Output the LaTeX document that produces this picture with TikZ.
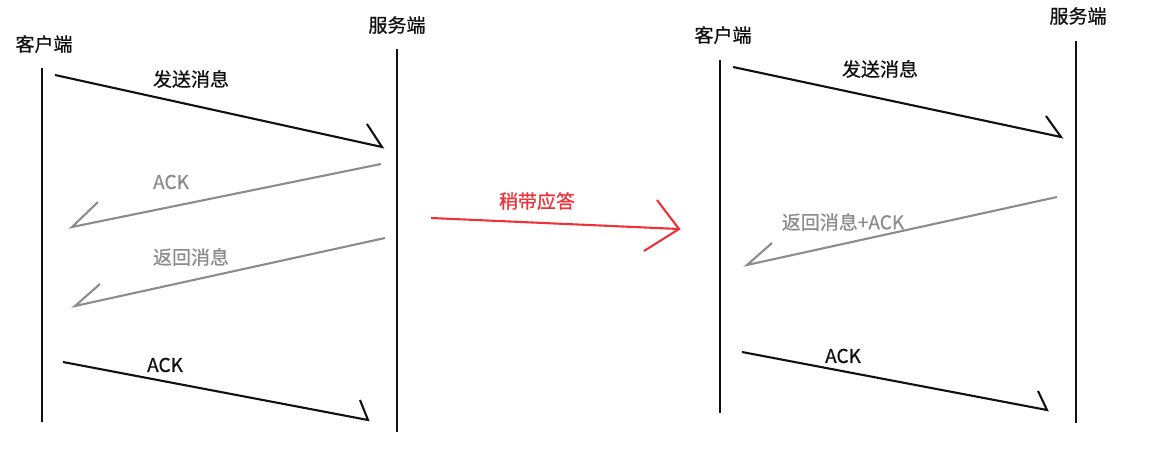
\documentclass[tikz,border=0pt]{standalone}
\usepackage{fontspec}
\newfontfamily\cjk[FakeBold=0.6]{Noto Sans CJK SC}
\definecolor{lgray}{HTML}{8C8C8C}
\definecolor{lred}{HTML}{EE3338}
\definecolor{ink}{HTML}{111111}
\begin{document}
\begin{tikzpicture}[x=1pt,y=-1pt,
  lbl/.style={font=\cjk\fontsize{19}{21}\selectfont, inner sep=0pt, text=ink},
  glbl/.style={lbl, text=lgray},
  rlbl/.style={lbl, text=lred},
  life/.style={draw=ink, line width=2.1pt},
  blkmsg/.style={draw=ink, line width=2.1pt, line join=miter},
  grymsg/.style={draw=lgray, line width=2.1pt, line join=miter},
  redmsg/.style={draw=lred, line width=2.1pt, line join=miter}]
\useasboundingbox (0,0) rectangle (1164,455);

% ---------- left panel ----------
\node[lbl] (lc) at (44,44) {客户端};
\node[lbl] (ls) at (397,25) {服务端};
\coordinate (lct) at (42,68);  \coordinate (lcb) at (42,422);
\coordinate (lst) at (397,49); \coordinate (lsb) at (397,432);
\draw[life] (lct) -- (lcb);
\draw[life] (lst) -- (lsb);

\coordinate (m1a) at (55,75);  \coordinate (m1b) at (382,147); \coordinate (m1c) at (367,124);
\draw[blkmsg] (m1a) -- (m1b) -- (m1c);
\node[lbl] (t1) at (191,79) {发送消息};

\coordinate (m2a) at (381,164); \coordinate (m2b) at (72,227); \coordinate (m2c) at (98,202);
\draw[grymsg] (m2a) -- (m2b) -- (m2c);
\node[glbl] (t2) at (171,182) {ACK};

\coordinate (m3a) at (385,238); \coordinate (m3b) at (75,306); \coordinate (m3c) at (100,284);
\draw[grymsg] (m3a) -- (m3b) -- (m3c);
\node[glbl] (t3) at (191,257) {返回消息};

\coordinate (m4a) at (63,362); \coordinate (m4b) at (368,420); \coordinate (m4c) at (360,400);
\draw[blkmsg] (m4a) -- (m4b) -- (m4c);
\node[lbl] (t4) at (165,365) {ACK};

% ---------- middle red arrow ----------
\coordinate (ra) at (431,218); \coordinate (rb) at (679,229);
\coordinate (rc) at (657,200); \coordinate (rd) at (644,251);
\draw[redmsg] (ra) -- (rb);
\draw[redmsg] (rc) -- (rb) -- (rd);
\node[rlbl] (tr) at (537,201) {稍带应答};

% ---------- right panel ----------
\node[lbl] (rcl) at (723,35) {客户端};
\node[lbl] (rsl) at (1078,16) {服务端};
\coordinate (rct) at (720,60);  \coordinate (rcb) at (720,413);
\coordinate (rst) at (1076,41); \coordinate (rsb) at (1076,423);
\draw[life] (rct) -- (rcb);
\draw[life] (rst) -- (rsb);

\coordinate (n1a) at (733,67);  \coordinate (n1b) at (1061,137); \coordinate (n1c) at (1046,116);
\draw[blkmsg] (n1a) -- (n1b) -- (n1c);
\node[lbl] (u1) at (880,69) {发送消息};

\coordinate (n2a) at (1057,197); \coordinate (n2b) at (747,265); \coordinate (n2c) at (772,243);
\draw[grymsg] (n2a) -- (n2b) -- (n2c);
\node[glbl] (u2) at (843,222) {返回消息+ACK};

\coordinate (n3a) at (742,352); \coordinate (n3b) at (1047,410); \coordinate (n3c) at (1038,391);
\draw[blkmsg] (n3a) -- (n3b) -- (n3c);
\node[lbl] (u3) at (843,356) {ACK};
\end{tikzpicture}
\end{document}
